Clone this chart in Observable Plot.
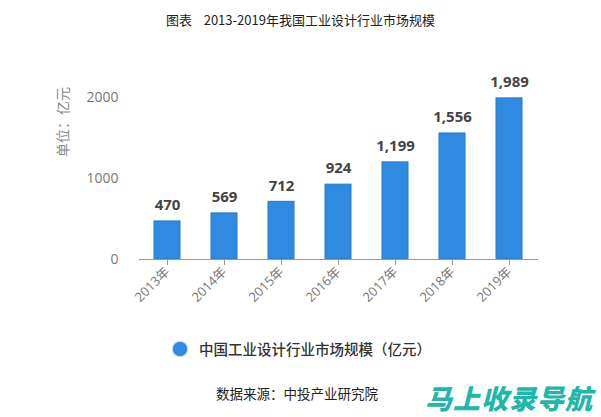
<!DOCTYPE html>
<html><head><meta charset="utf-8">
<script src="https://cdn.jsdelivr.net/npm/d3@7"></script>
<script src="https://cdn.jsdelivr.net/npm/@observablehq/plot@0.6"></script>
<style>
body{margin:0;background:#fff;width:601px;height:417px;overflow:hidden;position:relative;font-family:"Noto Sans CJK SC","Noto Sans",sans-serif;}
#title{position:absolute;top:10px;left:0;width:601px;text-align:center;font-family:"Noto Sans CJK SC",serif;font-size:13px;color:#222;}
#chart{position:absolute;top:40px;left:0;}
#ylab{position:absolute;left:62px;top:122px;transform:translate(-50%,-50%) rotate(-90deg);font-size:14px;color:#888;white-space:nowrap;}
#legend{position:absolute;top:338px;left:173px;font-size:14.5px;color:#333;font-weight:500;display:flex;align-items:center;}
#legend span.dot{display:inline-block;width:14px;height:14px;border-radius:50%;background:#2f8be0;margin-right:12px;box-shadow:0 0 2px #1c5fa8;}
#source{position:absolute;top:383px;left:216px;font-size:13.5px;color:#222;}
#wm{position:absolute;top:378px;left:425px;font-size:27px;font-weight:900;font-style:italic;color:#1fb7a8;letter-spacing:1px;}
</style></head>
<body>
<div id="title">图表&nbsp;&nbsp;&nbsp;&nbsp;2013-2019年我国工业设计行业市场规模</div>
<div id="ylab">单位：亿元</div>
<div id="chart"></div>
<div id="legend"><span class="dot"></span>中国工业设计行业市场规模（亿元）</div>
<div id="source">数据来源：中投产业研究院</div>
<div id="wm">马上收录导航</div>
<script>
const years = ["2013年","2014年","2015年","2016年","2017年","2018年","2019年"];
const values = [470, 569, 712, 924, 1199, 1556, 1989];
const yTicks = [0, 1000, 2000];
const data = years.map((y, i) => ({year: y, value: values[i]}));
const fmt = d3.format(",");
const chart = Plot.plot({
  width: 601,
  height: 290,
  marginTop: 57,
  marginBottom: 71,
  marginLeft: 139,
  marginRight: 63,
  style: {fontFamily: "'Open Sans','Noto Sans CJK SC',sans-serif", fontSize: "13px", color: "#666", background: "transparent"},
  x: {domain: years, paddingInner: 0.54, paddingOuter: 0.27, label: null},
  y: {domain: [0, 2000], label: null},
  marks: [
    Plot.barY(data, {x: "year", y: "value", fill: "#2f8be2", stroke: "#2a78c2", strokeWidth: 1}),
    Plot.ruleY([0], {stroke: "#999", strokeWidth: 1}),
    Plot.axisY({ticks: yTicks, tickFormat: d3.format("d"), tickSize: 0, tickPadding: 21, fontSize: 14, fill: "#777", label: null}),
    Plot.axisX({tickSize: 6, stroke: "#999", tickRotate: -45, tickPadding: 4, fontSize: 13, fill: "#777", label: null}),
    Plot.text(data, {x: "year", y: "value", text: d => fmt(d.value), dy: -16, fontWeight: "bold", fontSize: 15, fill: "#444"})
  ]
});
document.getElementById("chart").appendChild(chart);
</script>
</body></html>
